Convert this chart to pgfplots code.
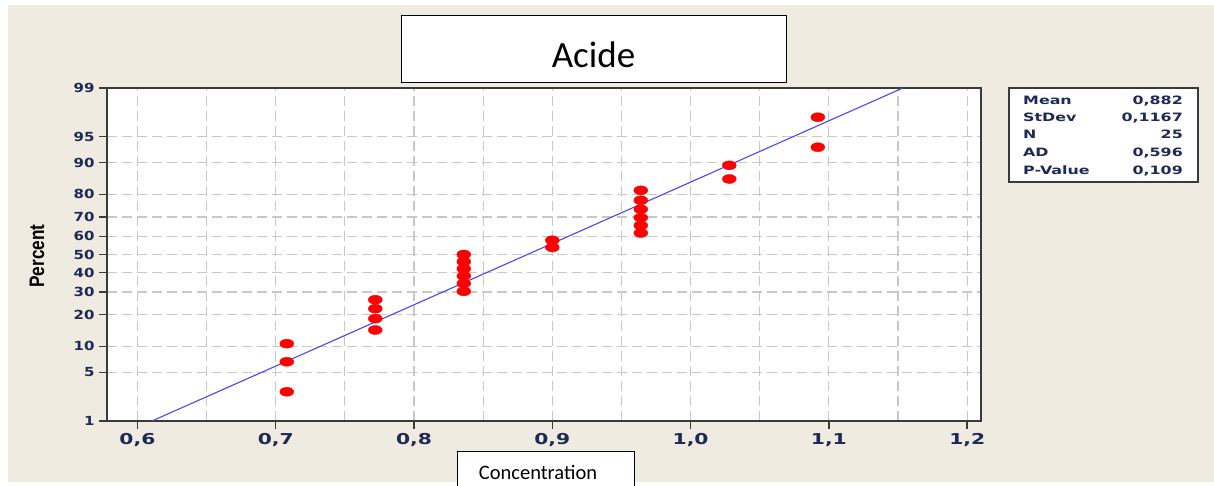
\documentclass[border=0pt]{standalone}
\usepackage{pgfplots}
\pgfplotsset{compat=1.18}
\usepackage{fontspec}
\setmainfont{DejaVu Sans}
\newfontfamily\calibri{Carlito}
\newfontfamily\arialf{Liberation Sans}
\definecolor{bg}{HTML}{EFEBE1}
\definecolor{navy}{HTML}{1E2A55}
\definecolor{gridc}{HTML}{C8C8C8}
\definecolor{linec}{HTML}{4848F4}
\definecolor{framec}{HTML}{3A3A3A}
\newcommand\xl[1]{\scalebox{1.35}[1]{#1}}
\newcommand\yl[1]{\scalebox{1.2}[1]{#1}}
\newcommand\stl[1]{\scalebox{1.38}[1]{#1}}

\pgfplotstableread{
x z
0.708 -1.918
0.708 -1.499
0.708 -1.246
0.772 -1.055
0.772 -0.896
0.772 -0.757
0.772 -0.632
0.836 -0.515
0.836 -0.405
0.836 -0.300
0.836 -0.199
0.836 -0.099
0.836 0.000
0.900 0.099
0.900 0.199
0.964 0.300
0.964 0.405
0.964 0.515
0.964 0.632
0.964 0.757
0.964 0.896
1.028 1.055
1.028 1.246
1.092 1.499
1.092 1.918
}\pts

\begin{document}
\begin{tikzpicture}[x=1bp,y=1bp]
\path[use as bounding box] (0,0) rectangle (1214,486);
\fill[white] (0,0) rectangle (1214,486);
\fill[bg] (8,4) rectangle (1214,481);
\begin{axis}[at={(107bp,65bp)}, anchor=south west, scale only axis,
  width=874bp, height=333bp,
  xmin=0.578, xmax=1.210, ymin=-2.3263, ymax=2.3263,
  axis background/.style={fill=white},
  xtick={0.6,0.7,0.8,0.9,1.0,1.1,1.2},
  xticklabels={{\xl{0,6}},{\xl{0,7}},{\xl{0,8}},{\xl{0,9}},{\xl{1,0}},{\xl{1,1}},{\xl{1,2}}},
  minor xtick={0.65,0.75,0.85,0.95,1.05,1.15},
  ytick={-2.3263,-1.6449,-1.2816,-0.8416,-0.5244,-0.2533,0,0.2533,0.5244,0.8416,1.2816,1.6449,2.3263},
  yticklabels={\yl{1},\yl{5},\yl{10},\yl{20},\yl{30},\yl{40},\yl{50},\yl{60},\yl{70},\yl{80},\yl{90},\yl{95},\yl{99}},
  xmajorgrids, ymajorgrids, xminorgrids,
  major grid style={draw=gridc, line width=1.2bp, dash pattern=on 10bp off 5bp},
  minor grid style={draw=gridc, line width=1.2bp, dash pattern=on 10bp off 5bp},
  tick align=outside, tick pos=left,
  major tick length=8bp, minor tick length=0bp,
  axis line style={draw=framec, line width=1.6bp},
  tick style={draw=framec, line width=1.4bp},
  x tick label style={font=\fontsize{15bp}{15bp}\selectfont\bfseries, text=navy, yshift=-1bp},
  y tick label style={font=\fontsize{12.5bp}{12.5bp}\selectfont\bfseries, text=navy, xshift=-1bp},
]
\addplot[draw=linec, line width=1.1bp] coordinates {(0.6105,-2.3263) (1.1535,2.3263)};
\addplot[only marks, mark=*, mark size=4.5bp, mark options={xscale=1.55, fill=red, draw=red}] table[x=x, y=z] {\pts};
\end{axis}
% y label
\node[rotate=90] at (37,230) {\arialf\bfseries\fontsize{21bp}{21bp}\selectfont\scalebox{0.82}[1]{Percent}};
% title box
\draw[fill=white, draw=black, line width=0.8bp] (401,404) rectangle (786,471);
\node[anchor=base, inner sep=0] at (593.5,418) {\calibri\fontsize{37bp}{37bp}\selectfont Acide};
% x label box
\draw[fill=white, draw=black, line width=0.8bp] (457,-3) rectangle (634,35);
\node[anchor=base, inner sep=0] at (538,6) {\calibri\fontsize{20.5bp}{20.5bp}\selectfont Concentration};
% stats box
\draw[fill=white, draw=framec, line width=1.5bp] (1009,304) rectangle (1198,398);
\begin{scope}[every node/.style={inner sep=0, text=navy, font=\fontsize{11.5bp}{11.5bp}\selectfont\bfseries}]
\node[anchor=base west] at (1023,381) {\stl{Mean}};
\node[anchor=base west] at (1023,364) {\stl{StDev}};
\node[anchor=base west] at (1023,347) {\stl{N}};
\node[anchor=base west] at (1023,329) {\stl{AD}};
\node[anchor=base west] at (1023,311) {\stl{P-Value}};
\node[anchor=base east] at (1183,381) {\stl{0,882}};
\node[anchor=base east] at (1183,364) {\stl{0,1167}};
\node[anchor=base east] at (1183,347) {\stl{25}};
\node[anchor=base east] at (1183,329) {\stl{0,596}};
\node[anchor=base east] at (1183,311) {\stl{0,109}};
\end{scope}
\end{tikzpicture}
\end{document}
